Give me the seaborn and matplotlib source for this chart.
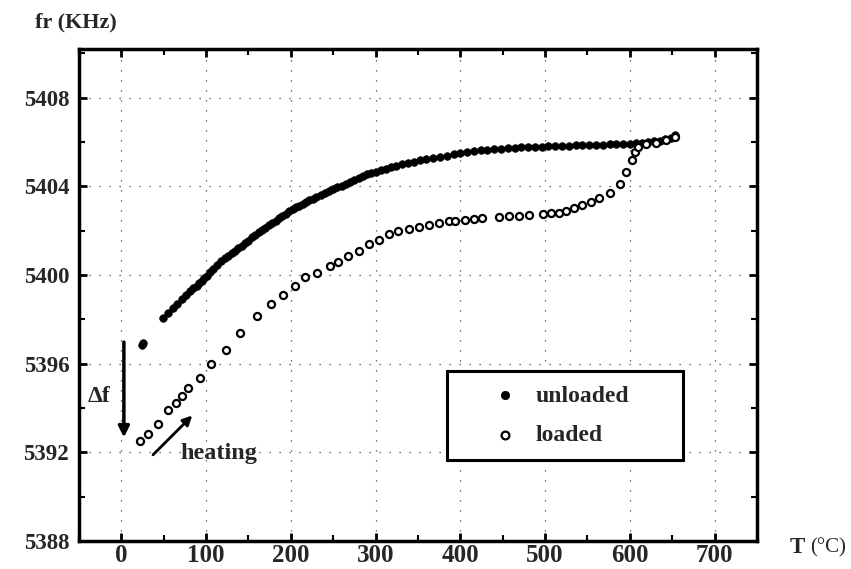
import numpy as np
import pandas as pd
import matplotlib.pyplot as plt
import seaborn as sns
from matplotlib.patches import Rectangle
from matplotlib.ticker import MultipleLocator

# ---- data
t_unloaded = [24, 26, 49, 55, 61, 66, 71, 76, 81, 85, 89, 92, 95, 98, 101, 105, 108, 113, 118,
              122, 126, 130, 134, 138, 142, 146, 150, 154, 158, 162, 166, 170, 174, 178, 182,
              186, 190, 194, 198, 202, 206, 210, 214, 218, 222, 226, 230, 235, 240, 245, 250,
              255, 260, 265, 270, 275, 280, 285, 290, 295, 300, 306, 312, 318, 324, 331, 338,
              345, 352, 360, 368, 376, 384, 392, 400, 408, 416, 424, 432, 440, 448, 456, 464,
              472, 480, 488, 496, 504, 512, 520, 528, 536, 544, 552, 560, 568, 576, 584, 592,
              600, 607, 614, 621, 628, 635, 642, 648, 653]
f_unloaded = [5396.85, 5396.95, 5398.08, 5398.3, 5398.5, 5398.7, 5398.9, 5399.1, 5399.29,
              5399.4, 5399.5, 5399.62, 5399.74, 5399.85, 5399.96, 5400.12, 5400.27, 5400.45,
              5400.64, 5400.76, 5400.88, 5401.0, 5401.1, 5401.21, 5401.32, 5401.43, 5401.55,
              5401.7, 5401.82, 5401.93, 5402.04, 5402.14, 5402.25, 5402.35, 5402.45, 5402.56,
              5402.66, 5402.77, 5402.87, 5402.96, 5403.05, 5403.13, 5403.21, 5403.29, 5403.37,
              5403.45, 5403.52, 5403.61, 5403.7, 5403.79, 5403.88, 5403.97, 5404.04, 5404.12,
              5404.2, 5404.29, 5404.39, 5404.47, 5404.54, 5404.6, 5404.66, 5404.72, 5404.8,
              5404.87, 5404.94, 5405.0, 5405.06, 5405.12, 5405.18, 5405.23, 5405.29, 5405.34,
              5405.39, 5405.44, 5405.5, 5405.55, 5405.59, 5405.63, 5405.66, 5405.69, 5405.71,
              5405.73, 5405.75, 5405.77, 5405.78, 5405.79, 5405.8, 5405.81, 5405.82, 5405.83,
              5405.84, 5405.85, 5405.86, 5405.87, 5405.88, 5405.89, 5405.9, 5405.9, 5405.91,
              5405.93, 5405.95, 5405.97, 5406.0, 5406.03, 5406.07, 5406.13, 5406.2, 5406.3]

t_loaded = [22, 31, 43, 55, 65, 71, 79, 93, 106, 124, 140, 160, 177, 191, 205, 217, 231, 246,
            256, 268, 280, 292, 304, 316, 327, 339, 351, 363, 375, 387, 394, 406, 416, 426,
            446, 458, 469, 481, 497, 507, 517, 525, 534, 544, 554, 564, 576, 588, 596, 602,
            606, 610, 619, 631, 643, 653]
f_loaded = [5392.51, 5392.84, 5393.27, 5393.9, 5394.24, 5394.55, 5394.9, 5395.37, 5395.98,
            5396.6, 5397.4, 5398.16, 5398.71, 5399.1, 5399.5, 5399.9, 5400.1, 5400.4, 5400.6,
            5400.87, 5401.09, 5401.4, 5401.6, 5401.85, 5402.0, 5402.1, 5402.18, 5402.27,
            5402.33, 5402.42, 5402.45, 5402.48, 5402.54, 5402.57, 5402.63, 5402.66, 5402.67,
            5402.72, 5402.75, 5402.78, 5402.82, 5402.9, 5403.02, 5403.17, 5403.3, 5403.47,
            5403.72, 5404.13, 5404.66, 5405.19, 5405.53, 5405.76, 5405.91, 5405.98, 5406.09,
            5406.24]

unloaded = pd.DataFrame({"T": t_unloaded, "f": f_unloaded})
loaded = pd.DataFrame({"T": t_loaded, "f": f_loaded})

sns.set_theme(style="ticks")
plt.rcParams['font.family'] = ['Liberation Serif', 'DejaVu Serif']
plt.rcParams['font.weight'] = 'bold'

fig = plt.figure(figsize=(8.51, 5.69), dpi=100)
ax = fig.add_axes([0.0928, 0.0492, 0.7967, 0.8647])

sns.scatterplot(data=unloaded, x="T", y="f", ax=ax, s=30, color="black",
                edgecolor="black", linewidth=0.5, label="unloaded", zorder=3)
sns.scatterplot(data=loaded, x="T", y="f", ax=ax, s=26, facecolor="white",
                edgecolor="black", linewidth=1.6, label="loaded", zorder=3)

ax.set_xlim(-50, 750)
ax.set_ylim(5388, 5410.2)
ax.xaxis.set_major_locator(MultipleLocator(100))
ax.xaxis.set_minor_locator(MultipleLocator(50))
ax.yaxis.set_major_locator(MultipleLocator(4))
ax.yaxis.set_minor_locator(MultipleLocator(2))
ax.set_xticks(range(0, 701, 100))
ax.set_xlabel("")
ax.set_ylabel("")

ax.tick_params(which="both", direction="in", top=True, right=True, color="black")
ax.tick_params(which="major", length=6, width=2)
ax.tick_params(which="minor", length=4, width=1.5)
ax.tick_params(axis="y", labelsize=16.5, pad=7)
ax.tick_params(axis="x", labelsize=18, pad=2)
for lab in ax.get_xticklabels() + ax.get_yticklabels():
    lab.set_fontweight("bold")
for sp in ax.spines.values():
    sp.set_linewidth(2.5)
    sp.set_color("black")

ax.grid(True, which="major", linestyle=(0, (1, 7)), color="0.25", linewidth=0.9)
ax.set_axisbelow(True)

# legend with a hand-sized frame
leg = ax.legend(loc="center left", bbox_to_anchor=(0.562, 0.255), frameon=False,
                handletextpad=0.3, labelspacing=0.75, markerscale=1.1,
                prop={"weight": "bold", "size": 17})
ax.add_patch(Rectangle((0.543, 0.165), 0.348, 0.181, transform=ax.transAxes,
                       fill=True, facecolor="white", edgecolor="black", lw=2.2, zorder=4))
leg.set_zorder(5)

# annotations
ax.annotate("", xy=(3, 5392.55), xytext=(3, 5397.1),
            arrowprops=dict(arrowstyle="-|>", lw=2.5, color="black", mutation_scale=16))
ax.text(-26, 5394.5, "Δf", fontsize=17, fontweight="bold", ha="center", va="center")
ax.annotate("", xy=(86, 5393.75), xytext=(35, 5391.8),
            arrowprops=dict(arrowstyle="-|>", lw=2, color="black", mutation_scale=14))
ax.text(70, 5391.95, "heating", fontsize=17.5, fontweight="bold", ha="left", va="center")

fig.text(0.041, 0.96, "fr (KHz)", fontsize=16, fontweight="bold", ha="left", va="center")
fig.text(0.928, 0.037, "T", fontsize=16.5, fontweight="bold", ha="left", va="center")
fig.text(0.952, 0.037, "(°C)", fontsize=15, fontweight="normal", ha="left", va="center")

fig.savefig("out.png", dpi=100)
